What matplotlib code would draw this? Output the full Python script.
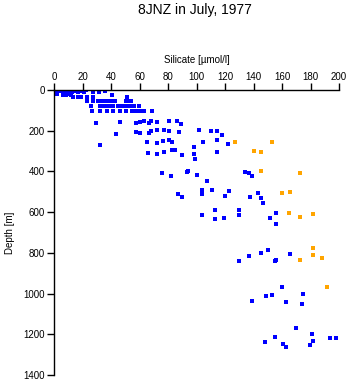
import matplotlib
matplotlib.use("Agg")
import matplotlib.pyplot as plt

plt.rcParams['font.family'] = ['Liberation Sans', 'DejaVu Sans']

# Blue samples: silicate [umol/l], depth [m]
blue_si = [1.9, 3.3, 4.7, 6.8, 8.2, 9.6, 11.0, 12.4, 13.8, 15.2, 16.6, 19.4, 20.8, 22.2, 27.2, 31.4, 35.6,
           1.9, 6.1, 8.2, 9.6, 11.7, 40.5,
           13.1, 16.6, 18.7, 22.9, 27.2, 51.0,
           22.9, 27.2, 30.7, 32.8, 34.9, 37.0, 39.1, 41.2, 42.6, 50.3, 52.4, 53.8,
           25.8, 32.1, 34.9, 37.7, 39.8, 41.2, 44.7, 46.8, 48.9, 51.0, 53.1, 55.9, 59.4,
           26.5, 32.1, 37.0, 41.2, 46.1, 50.3, 54.5, 56.6, 58.7, 60.1, 63.0, 68.6,
           29.3, 46.1, 57.3, 60.1, 63.0, 66.5, 67.9, 72.1, 80.5, 86.1, 88.9,
           43.3, 57.3, 60.1, 66.5, 67.9, 72.1, 77.0, 80.5, 87.5, 101.5, 110.0, 114.2, 117.7,
           32.1, 65.1, 72.1, 76.3, 80.5, 82.6, 98.0, 104.3, 114.2, 121.9,
           65.8, 72.1, 77.0, 82.6, 84.7, 89.6, 98.0, 98.7, 114.2,
           75.6, 81.9, 93.1, 93.8, 100.1, 133.8, 136.6, 138.7,
           107.2,
           86.8, 89.6, 103.6, 110.7, 122.6, 103.6, 119.8, 142.9, 137.3, 145.0,
           146.5,
           103.6, 112.8, 112.8, 119.1, 129.6, 129.6, 151.4, 155.6, 155.6,
           129.6, 136.6, 145.0, 150.0, 154.9, 155.6, 165.4,
           138.7, 148.6, 152.8, 159.8, 162.6, 173.8, 174.6,
           147.9, 154.9, 160.5, 162.6, 169.6, 179.4, 180.8, 181.5, 193.5, 197.7]
blue_depth = [8, 5, 3, 10, 0, 5, 2, 8, 0, 5, 10, 3, 8, 0, 10, 10, 5,
              20, 25, 25, 22, 25, 25,
              34, 34, 34, 34, 34, 34,
              52, 52, 52, 52, 52, 52, 52, 52, 52, 52, 52, 52,
              77, 77, 77, 77, 77, 77, 77, 77, 77, 77, 77, 77, 77,
              102, 102, 102, 102, 102, 102, 102, 102, 102, 102, 102, 102,
              162, 157, 162, 157, 152, 162, 152, 157, 152, 152, 167,
              216, 206, 211, 211, 201, 197, 197, 201, 206, 197, 201, 201, 221,
              270, 256, 260, 251, 246, 256, 280, 256, 246, 265,
              310, 314, 305, 295, 295, 319, 314, 339, 305,
              408, 423, 403, 398, 418, 403, 408, 423,
              447,
              511, 526, 491, 491, 496, 511, 521, 506, 526, 531,
              555,
              614, 590, 634, 629, 590, 614, 629, 604, 658,
              840, 816, 801, 786, 840, 835, 806,
              1037, 1012, 1007, 968, 1042, 1052, 1002,
              1238, 1214, 1248, 1263, 1170, 1253, 1199, 1233, 1219, 1219]

# Orange samples
orange_si = [126.8, 152.8, 140.1, 145.0, 145.0, 172.4, 159.8, 165.4, 164.7, 172.4, 181.5,
             181.5, 181.5, 172.4, 187.9, 191.4]
orange_depth = [256, 256, 300, 305, 398, 408, 506, 501, 604, 624, 609,
                776, 811, 835, 826, 968]

x_ticks = [0, 20, 40, 60, 80, 100, 120, 140, 160, 180, 200]
y_ticks = [0, 200, 400, 600, 800, 1000, 1200, 1400]

fig = plt.figure(figsize=(3.51, 3.84), dpi=100)
ax = fig.add_axes([54.3/351, 1-375/384, (339-54.3)/351, (375-90)/384])

ax.plot(blue_si, blue_depth, 's', color='#0000FF', markersize=2.2, markeredgewidth=0,
        linestyle='none', antialiased=False)
ax.plot(orange_si, orange_depth, 's', color='#FFA500', markersize=2.2, markeredgewidth=0,
        linestyle='none', antialiased=False)

ax.set_xlim(0, 200)
ax.set_ylim(1400, 0)
ax.xaxis.tick_top()
ax.xaxis.set_label_position('top')
ax.set_xticks(x_ticks)
ax.set_yticks(y_ticks)
ax.tick_params(axis='both', direction='out', length=5, width=1, labelsize=7, pad=2, colors='black')
ax.tick_params(axis='x', pad=1)
for s in ['right', 'bottom']:
    ax.spines[s].set_visible(False)
for s in ['top', 'left']:
    ax.spines[s].set_linewidth(1)
ax.set_xlabel('Silicate [µmol/l]', fontsize=7, labelpad=6)
ax.set_ylabel('Depth [m]', fontsize=7, labelpad=6)

fig.text(195/351, 1-10/384, '8JNZ in July, 1977', ha='center', va='center', fontsize=10)

fig.savefig('out.png', dpi=100)
